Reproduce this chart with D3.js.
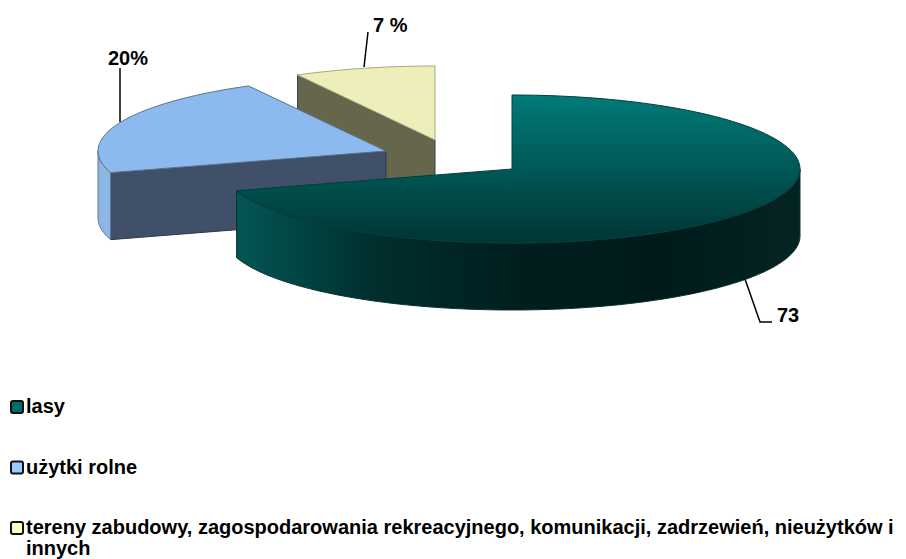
<!DOCTYPE html>
<html lang="en">
	<head>
		<meta charset="utf-8">
		<title>D3: exploded 3D pie</title>
		<script type="text/javascript" src="https://d3js.org/d3.v7.min.js"></script>
		<style type="text/css">
			html, body { margin: 0; padding: 0; background: #fff; }
			text { font-family: "Liberation Sans", Arial, sans-serif; font-weight: bold; fill: #000; }
		</style>
	</head>
	<body>
		<script type="text/javascript">

			var w = 906;
			var h = 559;

			//Data
			var categories = ["lasy", "użytki rolne", "tereny zabudowy, zagospodarowania rekreacyjnego, komunikacji, zadrzewień, nieużytków i innych"];
			var values = [73, 20, 7];
			var valueLabels = ["73", "20%", "7 %"];
			var legendBreak = "nieużytków i";

			//Look of each slice
			var topColors = [["#007b79", "#003533"], ["#8cbaee", "#8cbaee"], ["#eeeebb", "#eeeebb"]];
			var faceColors = [null, "#3f5068", "#66664d"];
			var wallColors = [["#035654", "#002e2d", "#001e1e", "#001a1a", "#042423"], ["#8cb6e4", "#8cb6e4"], ["#eeeebb", "#eeeebb"]];
			var swatchColors = ["#006b69", "#99ccff", "#ffffcc"];

			//Where each exploded slice sits
			var centers = [[512, 169], [386, 151], [435, 140]];
			var rx = 288;
			var ry = 74;
			var depth = 67;

			//The picture's perspective squeezes the angles a bit
			var warp = d3.scaleLinear()
				.domain([0, 262.8, 334.8, 360].map(function(d) { return d * Math.PI / 180; }))
				.range([0, 253, 331.5, 360].map(function(d) { return d * Math.PI / 180; }));

			var pie = d3.pie().sort(null);
			var slices = pie(values);

			var svg = d3.select("body")
				.append("svg")
				.attr("width", w)
				.attr("height", h)
				.style("display", "block");

			var defs = svg.append("defs");
			var line = d3.line();

			function rim(c, a, dy) {
				return [c[0] + rx * Math.sin(a), c[1] - ry * Math.cos(a) + (dy || 0)];
			}

			function arcPoints(c, a0, a1, dy) {
				var n = Math.max(2, Math.ceil(Math.abs(a1 - a0) * 40));
				return d3.range(n + 1).map(function(i) {
					return rim(c, a0 + (a1 - a0) * i / n, dy);
				});
			}

			function gradient(id, colors, x1, y1, x2, y2) {
				var g = defs.append("linearGradient")
					.attr("id", id)
					.attr("gradientUnits", "userSpaceOnUse")
					.attr("x1", x1).attr("y1", y1)
					.attr("x2", x2).attr("y2", y2);
				colors.forEach(function(col, i) {
					g.append("stop")
						.attr("offset", i / (colors.length - 1))
						.attr("stop-color", col);
				});
			}

			//Back to front: yellow, blue, teal
			d3.range(slices.length - 1, -1, -1).forEach(function(i) {
				var c = centers[i];
				var a0 = warp(slices[i].startAngle);
				var a1 = warp(slices[i].endAngle);
				var g = svg.append("g");

				//Cut face
				if (faceColors[i]) {
					var p = rim(c, a0);
					g.append("path")
						.attr("d", line([c, p, [p[0], p[1] + depth], [c[0], c[1] + depth]]) + "Z")
						.attr("fill", faceColors[i])
						.attr("stroke", "#33384a")
						.attr("stroke-width", 1);
				}

				//Outer wall, only the part that faces us
				var w0 = Math.max(a0, Math.PI / 2);
				var w1 = Math.min(a1, Math.PI * 1.5);
				if (w1 > w0) {
					var x0 = rim(c, w0)[0];
					var x1 = rim(c, w1)[0];
					gradient("wall" + i, wallColors[i], x1, 0, x0, 0);
					var upper = arcPoints(c, w0, w1, 0);
					var lower = arcPoints(c, w1, w0, depth);
					g.append("path")
						.attr("d", line(upper.concat(lower)) + "Z")
						.attr("fill", "url(#wall" + i + ")")
						.attr("stroke", i === 0 ? "#0c3030" : "#5f7590")
						.attr("stroke-width", 1);
				}

				//Top
				gradient("top" + i, topColors[i], 0, c[1] - ry, 0, c[1] + ry);
				g.append("path")
					.attr("d", line([c].concat(arcPoints(c, a0, a1, 0))) + "Z")
					.attr("fill", "url(#top" + i + ")")
					.attr("stroke", i === 0 ? "#023f3e" : (i === 1 ? "#5c7288" : "#a9a97c"))
					.attr("stroke-width", 1);
			});

			//Leader lines and value labels
			var leaders = [
				[[745, 279], [760, 322], [772, 322]],
				[[120, 122], [120, 68]],
				[[364, 67], [368, 32]]
			];
			var labelPos = [[777, 322], [108, 65], [373, 32]];

			svg.selectAll("path.leader")
				.data(leaders)
				.enter()
				.append("path")
				.attr("class", "leader")
				.attr("d", function(d) { return line(d); })
				.attr("fill", "none")
				.attr("stroke", "#000")
				.attr("stroke-width", 1.5);

			svg.selectAll("text.value")
				.data(valueLabels)
				.enter()
				.append("text")
				.attr("class", "value")
				.attr("x", function(d, i) { return labelPos[i][0]; })
				.attr("y", function(d, i) { return labelPos[i][1]; })
				.attr("font-size", "20px")
				.text(function(d) { return d; });

			//Legend
			var legendY = d3.scalePoint().domain(categories).range([407, 528]);
			var legend = svg.selectAll("g.legend")
				.data(categories)
				.enter()
				.append("g")
				.attr("class", "legend")
				.attr("transform", function(d) { return "translate(0," + legendY(d) + ")"; });

			legend.append("rect")
				.attr("x", 11).attr("y", -6)
				.attr("width", 12).attr("height", 12)
				.attr("rx", 2)
				.attr("fill", function(d, i) { return swatchColors[i]; })
				.attr("stroke", "#111")
				.attr("stroke-width", 2);

			legend.each(function(d) {
				var cut = d.indexOf(legendBreak);
				var lines = cut < 0 ? [d] : [d.slice(0, cut + legendBreak.length), d.slice(cut + legendBreak.length + 1)];
				d3.select(this).selectAll("text")
					.data(lines)
					.enter()
					.append("text")
					.attr("x", 26)
					.attr("y", function(t, j) { return 6 + j * 20.5; })
					.attr("font-size", "20px")
					.text(function(t) { return t; });
			});

		</script>
	</body>
</html>
